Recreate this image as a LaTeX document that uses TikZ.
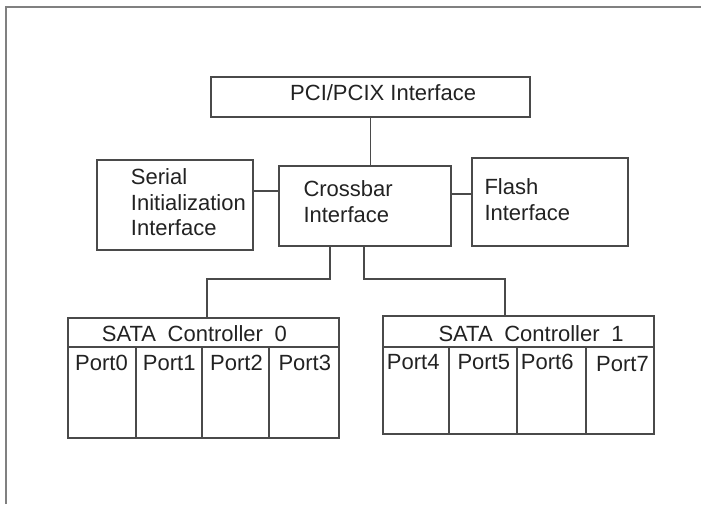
\documentclass[tikz,border=0pt]{standalone}
\usepackage{fontspec}
\setsansfont{Liberation Sans}
\definecolor{linec}{HTML}{4A4A4A}
\definecolor{textc}{HTML}{222222}
\definecolor{framec}{HTML}{808080}
\begin{document}
\begin{tikzpicture}[x=1pt,y=-1pt,
  box/.style={draw=linec,line width=1.4pt,inner sep=0pt},
  wire/.style={draw=linec,line width=1.4pt},
  lbl/.style={anchor=base west,inner sep=0pt,text=textc,align=left,
    font=\sffamily\fontsize{22}{25.5}\selectfont}]
\useasboundingbox (0,0) rectangle (701,504);
\draw[framec,line width=2pt] (6,504)--(6,7)--(701,7);
% blocks
\node[box,minimum width=319pt,minimum height=40pt] (pci) at (370.5,97){};
\node[box,minimum width=156pt,minimum height=90pt] (serial) at (175,205){};
\node[box,minimum width=172pt,minimum height=80pt] (xbar) at (365,206){};
\node[box,minimum width=156pt,minimum height=88pt] (flash) at (550,202){};
\node[box,minimum width=271pt,minimum height=120pt] (sata0) at (203.5,378){};
\node[box,minimum width=271pt,minimum height=118pt] (sata1) at (518.5,375){};
% texts (base = last line)
\node[lbl] (tpci) at (290,100){PCI/PCIX Interface};
\node[lbl] (tserial) at (130.7,235.7){Serial\\Initialization\\Interface};
\node[lbl] (txbar) at (303.3,222.3){Crossbar\\Interface};
\node[lbl] (tflash) at (484.3,220){Flash\\Interface};
\node[lbl] (tsata0) at (101.7,341){SATA\hspace{5.5pt} Controller\hspace{5.5pt} 0};
\node[lbl] (tsata1) at (438.3,341.7){SATA\hspace{5.5pt} Controller\hspace{5.5pt} 1};
% ports
\draw[wire] (sata0.west|-0,347)--(sata0.east|-0,347);
\draw[wire] (sata1.west|-0,347)--(sata1.east|-0,347);
\foreach \x in {136,202,269} \draw[wire] (\x,347)--(\x,0|-sata0.south);
\foreach \x in {449,517,586} \draw[wire] (\x,347)--(\x,0|-sata1.south);
\node[lbl] (p0) at (75,370){Port0};\node[lbl] (p1) at (142.7,370){Port1};
\node[lbl] (p2) at (210,370){Port2};\node[lbl] (p3) at (278.3,370){Port3};
\node[lbl] (p4) at (386.7,369){Port4};\node[lbl] (p5) at (457.3,369){Port5};
\node[lbl] (p6) at (520.7,369){Port6};\node[lbl] (p7) at (596,371){Port7};
% links
\draw[wire] (pci.south)--(pci.south|-xbar.north);
\draw[wire] (serial.east|-0,191)--(xbar.west|-0,191);
\draw[wire] (xbar.east|-0,194)--(flash.west|-0,194);
\draw[wire] (xbar.south-|330,0)--(330,279)-|(sata0.north-|207,0);
\draw[wire] (xbar.south-|364,0)--(364,279)-|(sata1.north-|505,0);
\end{tikzpicture}
\end{document}
